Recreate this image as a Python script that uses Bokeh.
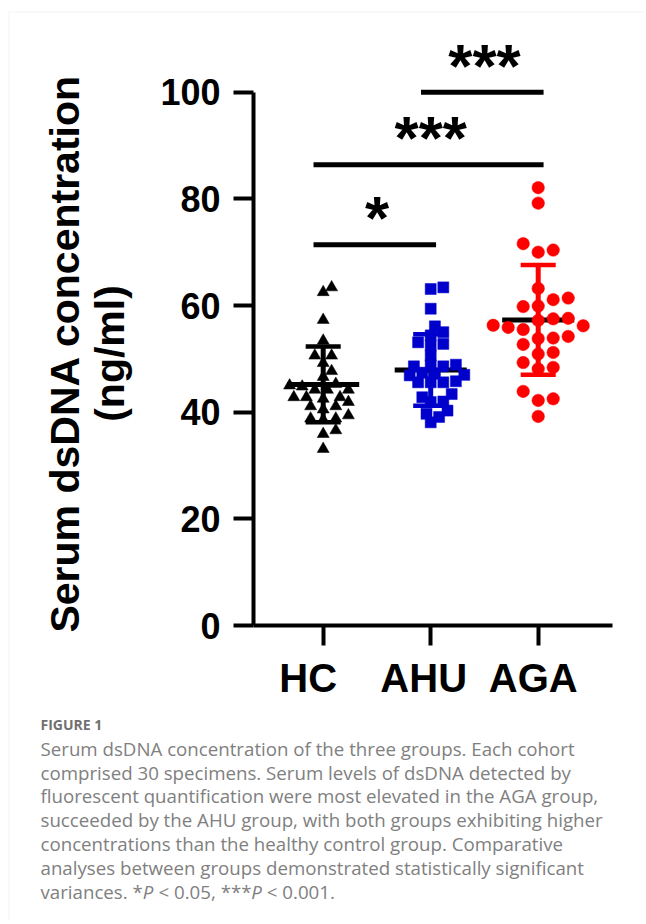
import math
from bokeh.plotting import figure
from bokeh.models import ColumnDataSource, FixedTicker, Range1d, BoxAnnotation
from bokeh.core.properties import value
from bokeh.embed import file_html
from bokeh.resources import INLINE

# ---------------- data ----------------
groups = ["HC", "AHU", "AGA"]
hc_values = [63.4, 62.5, 57.3, 53.4, 50.6, 50.6, 49.2, 47.7, 46.6, 45.3,
             45.0, 44.2, 44.2, 44.2, 42.8, 42.8, 42.8, 42.5, 41.9, 41.1,
             41.1, 39.4, 38.8, 38.8, 38.6, 36.6, 35.9, 33.1, 44.8, 40.5]
ahu_values = [63.4, 63.1, 59.4, 56.1, 55.0, 54.4, 53.1, 52.8, 52.5, 50.6,
              48.6, 48.6, 48.8, 48.9, 47.4, 47.2, 46.9, 47.0, 45.6, 45.6,
              45.6, 45.8, 43.4, 42.8, 41.9, 42.0, 40.3, 39.7, 39.1, 38.1]
aga_values = [82.1, 79.2, 70.4, 70.0, 71.6, 63.2, 61.4, 61.1, 59.8, 59.9,
              57.6, 57.5, 55.9, 56.2, 55.5, 56.3, 53.8, 53.9, 54.2, 52.7,
              51.2, 50.9, 49.3, 48.4, 48.1, 43.9, 42.2, 42.5, 39.2, 57.2]
group_means = [45.2, 47.9, 57.3]
group_sds = [7.1, 6.7, 10.3]
y_ticks = [0, 20, 40, 60, 80, 100]
sig_from = [0, 0, 1]
sig_to = [1, 2, 2]
sig_height = [71.4, 86.4, 100.0]
sig_text = ["*", "***", "***"]
y_label_lines = ["Serum dsDNA concentration", "(ng/ml)"]
caption_title = "FIGURE 1"
caption_lines = [
    "Serum dsDNA concentration of the three groups. Each cohort",
    "comprised 30 specimens. Serum levels of dsDNA detected by",
    "fluorescent quantification were most elevated in the AGA group,",
    "succeeded by the AHU group, with both groups exhibiting higher",
    "concentrations than the healthy control group. Comparative",
    "analyses between groups demonstrated statistically significant",
]
caption_last = ["variances. *", "P", "< 0.05, ***", "P", "< 0.001."]
caption_last_style = ["normal", "italic", "normal", "italic", "normal"]

# ---------------- geometry / styles (page pixels) ----------------
W, H = 644, 920
AX_L, AX_R, AX_B = 253, 612, 625      # y-axis x, x-axis right end, x-axis y (value 0)
X0_PX, CAT_PX = 322.7, 107.5          # page x of first category, px per category
UNIT_PX = (AX_B - 91.7) / 100.0       # px per y unit


def dx(px):
    return (px - X0_PX) / CAT_PX


def dy(py):
    return (AX_B - py) / UNIT_PX


colors = ["#000000", "#0000CC", "#FF0000"]
markers = ["triangle", "square", "circle"]
marker_sizes = [12, 11, 12.5]
swarm_diam = [9.5, 9.5, 14.0]
swarm_step = [4.2, 4.2, 15.0]
FONT = value("Liberation Sans")
CAP_FONT = value("Open Sans")


def swarm(vals, diam, step):
    pts = []
    offs = [0.0] * len(vals)
    order = sorted(range(len(vals)), key=lambda i: vals[i])
    cands = [0]
    for m in range(1, 40):
        cands += [m, -m]
    for i in order:
        yy = vals[i] * UNIT_PX
        xx = 0.0
        for c in cands:
            xx = c * step
            if all((xx - px) ** 2 + (yy - py) ** 2 >= diam ** 2 for px, py in pts):
                break
        pts.append((xx, yy))
        offs[i] = xx / CAT_PX
    return offs


p = figure(width=W, height=H, output_backend="svg", toolbar_location=None, title=None,
           x_range=Range1d(dx(0), dx(W)), y_range=Range1d(dy(H), dy(0)),
           min_border=0)
p.outline_line_color = None
p.xgrid.visible = False
p.ygrid.visible = False
p.background_fill_color = "white"
p.border_fill_color = "white"

# card border (top and left edges)
p.add_layout(BoxAnnotation(left=dx(8.5), top=dy(11.5), right=dx(W + 40), bottom=dy(H + 40),
                           fill_alpha=0, line_color="#d4d4d4", line_width=1))

# axes
for ax in (p.xaxis[0], p.yaxis[0]):
    ax.axis_line_width = 4
    ax.axis_line_color = "black"
    ax.major_tick_line_width = 4
    ax.major_tick_line_color = "black"
    ax.major_tick_out = 20
    ax.major_tick_in = 0
    ax.minor_tick_out = 0
    ax.minor_tick_in = 0
    ax.minor_tick_line_color = None

p.yaxis.fixed_location = dx(AX_L)
p.yaxis.ticker = FixedTicker(ticks=y_ticks, minor_ticks=[])
p.yaxis.bounds = (0, 100)
p.yaxis.major_label_text_font = "Liberation Sans"
p.yaxis.major_label_text_font_style = "bold"
p.yaxis.major_label_text_font_size = "36px"
p.yaxis.major_label_text_color = "black"
p.yaxis.major_label_standoff = 13

p.xaxis.fixed_location = 0
p.xaxis.bounds = (dx(AX_L), dx(AX_R))
p.xaxis.ticker = FixedTicker(ticks=list(range(len(groups))), minor_ticks=[])
p.xaxis.major_label_text_font_size = "0px"
p.xaxis.major_label_text_alpha = 0

# error bars and mean lines
all_vals = [hc_values, ahu_values, aga_values]
idx = list(range(len(groups)))
lo = [m - s for m, s in zip(group_means, group_sds)]
hi = [m + s for m, s in zip(group_means, group_sds)]
CAP_HW, MEAN_HW = 0.163, 0.335
err = ColumnDataSource(dict(x=idx, lo=lo, hi=hi, m=group_means, c=colors,
                            cl=[i - CAP_HW for i in idx], cr=[i + CAP_HW for i in idx],
                            ml=[i - MEAN_HW for i in idx], mr=[i + MEAN_HW for i in idx]))
p.segment(x0="x", y0="lo", x1="x", y1="hi", source=err, line_color="c", line_width=5)
p.segment(x0="cl", y0="hi", x1="cr", y1="hi", source=err, line_color="c", line_width=4.5)
p.segment(x0="cl", y0="lo", x1="cr", y1="lo", source=err, line_color="c", line_width=4.5)
p.segment(x0="ml", y0="m", x1="mr", y1="m", source=err, line_color="black", line_width=5)

# points
for g, vals in enumerate(all_vals):
    offs = swarm(vals, swarm_diam[g], swarm_step[g])
    src = ColumnDataSource(dict(x=[g + o for o in offs], y=vals))
    p.scatter(x="x", y="y", source=src, marker=markers[g], size=marker_sizes[g],
              fill_color=colors[g], line_color=colors[g], line_width=0.5)

# significance bars
PAD_L, PAD_R = 0.09, 0.05
STAR_LIFT_PX = 27
sig = ColumnDataSource(dict(x0=[a - PAD_L for a in sig_from], x1=[b + PAD_R for b in sig_to],
                            y=sig_height, t=sig_text,
                            ty=[h + STAR_LIFT_PX / UNIT_PX for h in sig_height],
                            xm=[(a + b) / 2 for a, b in zip(sig_from, sig_to)]))
p.segment(x0="x0", y0="y", x1="x1", y1="y", source=sig, line_color="black", line_width=5)
p.text(x="xm", y="ty", text="t", source=sig, text_align="center", text_baseline="middle",
       text_font=FONT, text_font_style="bold", text_font_size="62px", text_color="black")

# category labels
cat_src = ColumnDataSource(dict(x=idx, t=groups, dx=[-15, -7, -5]))
p.text(x="x", y=dy(677), text="t", x_offset="dx", source=cat_src, text_align="center",
       text_baseline="middle", text_font=FONT, text_font_style="bold",
       text_font_size="40px", text_color="black")

# y axis title (two lines)
ylab_src = ColumnDataSource(dict(x=[dx(64), dx(109.5)], y=[dy(353), dy(353)], t=y_label_lines))
p.text(x="x", y="y", text="t", source=ylab_src, angle=math.pi / 2, text_align="center",
       text_baseline="middle", text_font=FONT, text_font_style="bold",
       text_font_size="41px", text_color="black")

# caption
CAP_X = 40
CAP_SIZE = 18.7
LINE_H = 23.8
CAP_COLOR = "#808080"
p.text(x=[dx(CAP_X)], y=[dy(723.5)], text=[caption_title], text_align="left",
       text_baseline="middle", text_font=CAP_FONT, text_font_style="bold",
       text_font_size="14px", text_color="#707070")
cap_src = ColumnDataSource(dict(x=[dx(CAP_X)] * len(caption_lines),
                                y=[dy(747.8 + LINE_H * k) for k in range(len(caption_lines))],
                                t=caption_lines))
p.text(x="x", y="y", text="t", source=cap_src, text_align="left", text_baseline="middle",
       text_font=CAP_FONT, text_font_size=f"{CAP_SIZE}px", text_color=CAP_COLOR)
# last line with italic P (em widths of each piece, plus the space that follows)
seg_em = [5.474, 0.575, 4.957, 0.575, 3.651]
gap_em = [0.0, 0.26, 0.0, 0.26, 0.0]
xcur = CAP_X
ylast = dy(747.8 + LINE_H * len(caption_lines))
for seg_text, style, w, gpad in zip(caption_last, caption_last_style, seg_em, gap_em):
    p.text(x=[dx(xcur)], y=[ylast], text=[seg_text], text_align="left", text_baseline="middle",
           text_font=CAP_FONT, text_font_style=style, text_font_size=f"{CAP_SIZE}px",
           text_color=CAP_COLOR)
    xcur += (w + gpad) * CAP_SIZE

open("out.html", "w").write(file_html(p, INLINE))
